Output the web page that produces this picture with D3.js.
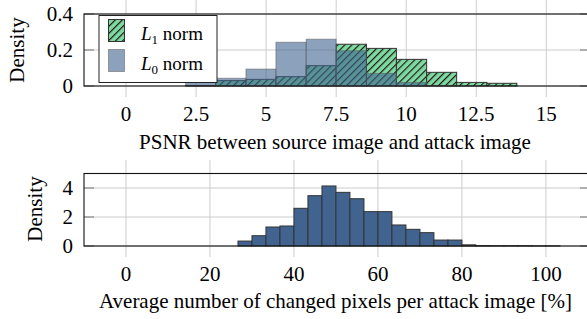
<!DOCTYPE html>
<html>
<head>
<meta charset="utf-8">
<script src="https://cdn.jsdelivr.net/npm/d3@7"></script>
<style>
  body { margin: 0; background: #fff; }
  svg { display: block; font-family: "Liberation Serif", "Times New Roman", serif; }
  .grid line { stroke: #cccccc; stroke-width: 1; }
</style>
</head>
<body>
<svg id="chart" width="587" height="319"></svg>
<script>
// PSNR histogram (top), bin left edges and densities
var psnrEdges = [2.13, 3.2, 4.28, 5.35, 6.43, 7.5, 8.58, 9.65, 10.73, 11.8, 12.88, 13.95];
var l1Density = [0.003, 0.03, 0.037, 0.052, 0.113, 0.232, 0.209, 0.148, 0.076, 0.02, 0.015];
var l0Density = [0.03, 0.043, 0.094, 0.243, 0.26, 0.196, 0.07, 0.02, 0.003, 0, 0];
var psnrTicks = [0, 2.5, 5, 7.5, 10, 12.5, 15];
var psnrYTicks = [0, 0.2, 0.4];

// changed pixels histogram (bottom)
var pixEdges = [26.67, 30, 33.33, 36.67, 40, 43.33, 46.67, 50, 53.33, 56.67, 60, 63.33, 66.67,
                70, 73.33, 76.67, 80, 83.33, 86.67, 90, 93.33, 96.67, 100, 103.33];
var pixDensity = [0.34, 0.71, 1.31, 1.38, 2.6, 3.47, 4.14, 3.7, 3.26, 2.37, 2.37, 1.45, 1.15,
                  0.92, 0.41, 0.41, 0.08, 0.03, 0.02, 0.02, 0.02, 0.01, 0.01];
var pixTicks = [0, 20, 40, 60, 80, 100];
var pixYTicks = [0, 2, 4];

var green = "#80d9a0";
var blue = "#40648f";
var fs = 21;

var svg = d3.select("#chart");

// hatch pattern for the L1 bars
var pat = svg.append("defs").append("pattern")
    .attr("id", "hatch")
    .attr("patternUnits", "userSpaceOnUse")
    .attr("width", 5).attr("height", 5)
    .attr("patternTransform", "rotate(45)");
pat.append("rect").attr("width", 5).attr("height", 5).attr("fill", green);
pat.append("line").attr("x1", 0.6).attr("y1", 0).attr("x2", 0.6).attr("y2", 5)
    .attr("stroke", "#1a1a1a").attr("stroke-width", 1.2);

function drawFrame(g, x, y, xTicks, yTicks, gridTop, tickBottom, fmtY) {
    var x0 = x.range()[0], x1 = x.range()[1];
    var yb = y.range()[0];
    var grid = g.append("g").attr("class", "grid");
    grid.selectAll(".vx").data(xTicks).enter().append("line")
        .attr("x1", function (d) { return x(d); })
        .attr("x2", function (d) { return x(d); })
        .attr("y1", gridTop).attr("y2", tickBottom);
    grid.selectAll(".hy").data(yTicks).enter().append("line")
        .attr("x1", x0).attr("x2", x1)
        .attr("y1", function (d) { return y(d); })
        .attr("y2", function (d) { return y(d); });
    // small dark ticks on left/right
    yTicks.forEach(function (d) {
        g.append("line").attr("x1", x0).attr("x2", x0 + 10)
            .attr("y1", y(d)).attr("y2", y(d)).attr("stroke", "#777");
        g.append("line").attr("x1", x1 - 10).attr("x2", x1)
            .attr("y1", y(d)).attr("y2", y(d)).attr("stroke", "#777");
    });
    // tick labels
    g.selectAll(".xl").data(xTicks).enter().append("text")
        .attr("x", function (d) { return x(d); })
        .attr("y", yb + 35)
        .attr("text-anchor", "middle")
        .attr("font-size", fs)
        .text(function (d) { return d; });
    g.selectAll(".yl").data(yTicks).enter().append("text")
        .attr("x", x0 - 11)
        .attr("y", function (d) { return y(d); })
        .attr("dy", "0.35em")
        .attr("text-anchor", "end")
        .attr("font-size", fs)
        .text(fmtY);
}

function drawBox(g, x, y) {
    var x0 = x.range()[0], x1 = x.range()[1];
    var yb = y.range()[0], yt = y.range()[1];
    g.append("rect").attr("x", x0).attr("y", yt)
        .attr("width", x1 - x0).attr("height", yb - yt)
        .attr("fill", "none").attr("stroke", "#111").attr("stroke-width", 1.1);
}

// ---------- top plot ----------
var xTop = d3.scaleLinear().domain([-1.5, 16.56]).range([84, 590]);
var yTop = d3.scaleLinear().domain([0, 0.4]).range([86, 14]);
var gTop = svg.append("g");
drawFrame(gTop, xTop, yTop, psnrTicks, psnrYTicks, 0, 97, function (d) { return d === 0 ? "0" : d3.format(".1f")(d); });

gTop.selectAll(".l1").data(l1Density).enter().append("rect")
    .attr("x", function (d, i) { return xTop(psnrEdges[i]); })
    .attr("width", function (d, i) { return xTop(psnrEdges[i + 1]) - xTop(psnrEdges[i]); })
    .attr("y", function (d) { return yTop(d); })
    .attr("height", function (d) { return yTop(0) - yTop(d); })
    .attr("fill", "url(#hatch)")
    .attr("stroke", "#333").attr("stroke-width", 1);

gTop.selectAll(".l0").data(l0Density).enter().append("rect")
    .attr("x", function (d, i) { return xTop(psnrEdges[i]); })
    .attr("width", function (d, i) { return xTop(psnrEdges[i + 1]) - xTop(psnrEdges[i]); })
    .attr("y", function (d) { return yTop(d); })
    .attr("height", function (d) { return yTop(0) - yTop(d); })
    .attr("fill", blue).attr("fill-opacity", 0.6)
    .attr("stroke", "#555").attr("stroke-opacity", 0.5).attr("stroke-width", 1);

drawBox(gTop, xTop, yTop);

// legend
var leg = gTop.append("g");
leg.append("rect").attr("x", 99).attr("y", 15.5).attr("width", 118).attr("height", 67)
    .attr("fill", "#fff").attr("stroke", "#222").attr("stroke-width", 1);
leg.append("rect").attr("x", 108.5).attr("y", 19.5).attr("width", 16).attr("height", 22)
    .attr("fill", "url(#hatch)").attr("stroke", "#333");
leg.append("rect").attr("x", 108.5).attr("y", 49.5).attr("width", 16).attr("height", 22)
    .attr("fill", blue).attr("fill-opacity", 0.6)
    .attr("stroke", "#555").attr("stroke-opacity", 0.5);
[["1", 39.5], ["0", 69.5]].forEach(function (e) {
    var t = leg.append("text").attr("x", 141).attr("y", e[1]).attr("font-size", 19);
    t.append("tspan").attr("font-style", "italic").text("L");
    t.append("tspan").attr("font-size", 13).attr("dy", 4).text(e[0]);
    t.append("tspan").attr("dy", -4).text(" norm");
});

svg.append("text")
    .attr("transform", "translate(24,50) rotate(-90)")
    .attr("text-anchor", "middle").attr("font-size", fs)
    .text("Density");
svg.append("text").attr("x", 335).attr("y", 149)
    .attr("text-anchor", "middle").attr("font-size", fs)
    .text("PSNR between source image and attack image");

// ---------- bottom plot ----------
var xBot = d3.scaleLinear().domain([-10, 110.5]).range([84, 590]);
var yBot = d3.scaleLinear().domain([0, 5]).range([246, 173.5]);
var gBot = svg.append("g");
drawFrame(gBot, xBot, yBot, pixTicks, pixYTicks, 160, 257, function (d) { return d; });

gBot.selectAll(".pb").data(pixDensity).enter().append("rect")
    .attr("x", function (d, i) { return xBot(pixEdges[i]); })
    .attr("width", function (d, i) { return xBot(pixEdges[i + 1]) - xBot(pixEdges[i]); })
    .attr("y", function (d) { return yBot(d); })
    .attr("height", function (d) { return yBot(0) - yBot(d); })
    .attr("fill", blue)
    .attr("stroke", "#333").attr("stroke-width", 1);

drawBox(gBot, xBot, yBot);

svg.append("text")
    .attr("transform", "translate(42,209) rotate(-90)")
    .attr("text-anchor", "middle").attr("font-size", fs)
    .text("Density");
svg.append("text").attr("x", 335.5).attr("y", 308)
    .attr("text-anchor", "middle").attr("font-size", fs)
    .text("Average number of changed pixels per attack image [%]");
</script>
</body>
</html>
